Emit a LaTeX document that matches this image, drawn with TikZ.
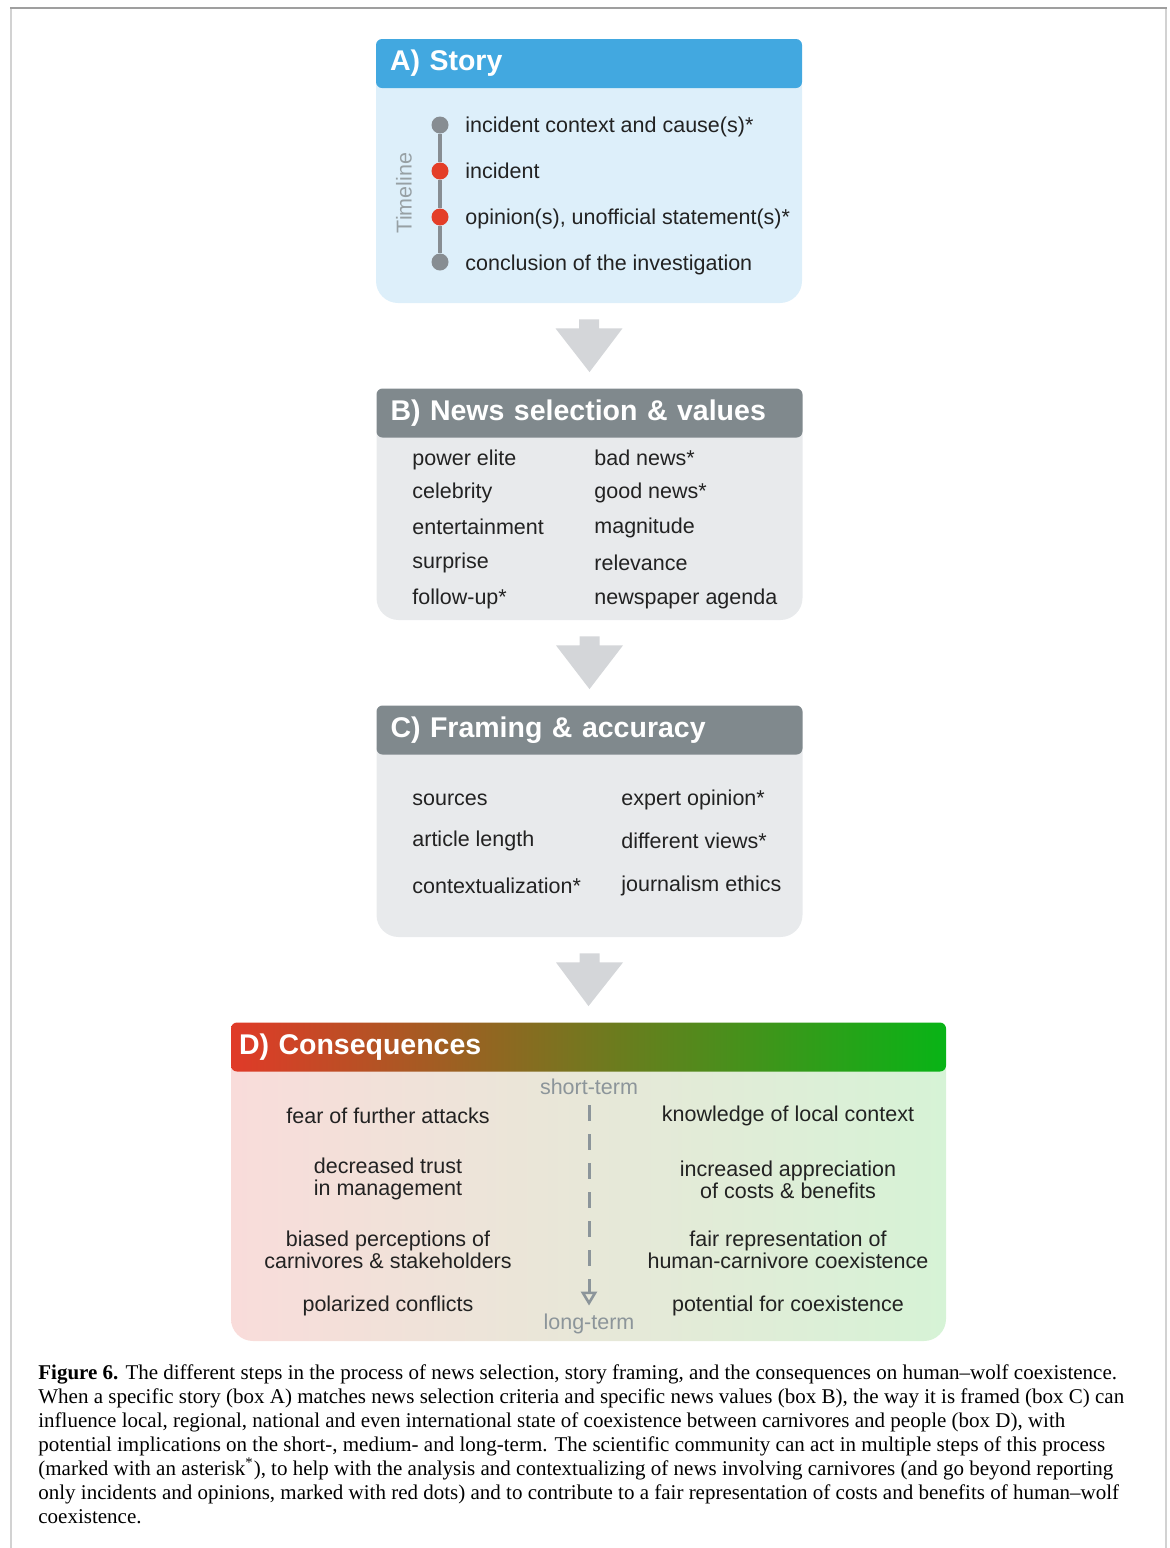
\documentclass[tikz,border=0pt]{standalone}
\usepackage{fontspec}
\setmainfont{Liberation Sans}
\newfontfamily\capfont{Liberation Serif}
\usetikzlibrary{calc,arrows.meta}
\definecolor{storyblue}{RGB}{66,168,224}
\definecolor{storylight}{RGB}{221,239,250}
\definecolor{newsgray}{RGB}{128,137,141}
\definecolor{newslight}{RGB}{232,234,236}
\definecolor{arrowgray}{RGB}{212,214,217}
\definecolor{dotgray}{RGB}{135,141,146}
\definecolor{dotred}{RGB}{228,62,40}
\definecolor{termgray}{RGB}{140,149,154}
\definecolor{consred}{RGB}{224,58,40}
\definecolor{consbrown}{RGB}{140,106,42}
\definecolor{consgreen}{RGB}{8,180,22}
\definecolor{conspink}{RGB}{249,220,218}
\definecolor{consbeige}{RGB}{239,230,220}
\definecolor{conslgreen}{RGB}{214,243,214}
\definecolor{textdark}{RGB}{34,34,34}

\begin{document}
\begin{tikzpicture}[x=0.5pt,y=-0.5pt,
  boxhead/.style={minimum height=24.5pt, text width=199pt, inner xsep=7pt, inner ysep=0pt,
    rounded corners=3pt, align=left, text=white, font=\fontsize{14.25}{16}\selectfont\bfseries},
  boxbody/.style={minimum width=213pt, inner sep=0pt, rounded corners=11pt},
  item/.style={anchor=mid west, inner sep=0pt, yshift=-1pt, text=textdark, font=\fontsize{10.75}{11.2}\selectfont},
  conseq/.style={align=center, inner sep=0pt, text=textdark, font=\fontsize{10.75}{11.2}\selectfont},
  term/.style={inner sep=0pt, text=termgray, font=\fontsize{10.75}{11.2}\selectfont},
  tdot/.style={circle, minimum size=8.5pt, inner sep=0pt},
  blockarrow/.style={fill=arrowgray}]
\useasboundingbox (0,0) rectangle (1170,1548);

% frame
\draw[gray!35, line width=1pt] (11,1548) -- (11,8) (1166,8) -- (1166,1548);
\draw[gray!75, line width=1pt] (10,8) -- (1167,8);

% A) Story
\node[boxbody, fill=storylight, minimum height=120.25pt] (bodyA) at (589,182.75) {};
\node[boxhead, fill=storyblue] (headA) at (589,63.5) {A) Story};
\node[rotate=90, inner sep=0pt, text=termgray!90, font=\fontsize{10.75}{11}\selectfont] (timeline) at (404,193) {Timeline};
\node[tdot, fill=dotgray] (t1) at (440,125) {};
\node[tdot, fill=dotred] (t2) at (440,171) {};
\node[tdot, fill=dotred] (t3) at (440,217) {};
\node[tdot, fill=dotgray] (t4) at (440,262) {};
\draw[dotgray, line width=2pt] (t1) -- (t2) (t2) -- (t3) (t3) -- (t4);
\node[item] (s1) at (465,125) {incident context and cause(s)*};
\node[item] (s2) at (465,171) {incident};
\node[item] (s3) at (465,217) {opinion(s), unofficial statement(s)*};
\node[item] (s4) at (465,263) {conclusion of the investigation};

% B) News selection & values
\node[boxbody, fill=newslight, minimum height=104pt] (bodyB) at (589.5,516) {};
\node[boxhead, fill=newsgray] (headB) at (589.5,413) {B) News selection \& values};
\node[item] (b1) at (412,458) {power elite};
\node[item] (b2) at (412,491) {celebrity};
\node[item] (b3) at (412,527) {entertainment};
\node[item] (b4) at (412,561) {surprise};
\node[item] (b5) at (412,597) {follow-up*};
\node[item] (b6) at (594,458) {bad news*};
\node[item] (b7) at (594,491) {good news*};
\node[item] (b8) at (594,526) {magnitude};
\node[item] (b9) at (594,563) {relevance};
\node[item] (b10) at (594,597) {newspaper agenda};

% C) Framing & accuracy
\node[boxbody, fill=newslight, minimum height=104pt] (bodyC) at (589.5,833) {};
\node[boxhead, fill=newsgray] (headC) at (589.5,730) {C) Framing \& accuracy};
\node[item] (c1) at (412,798) {sources};
\node[item] (c2) at (412,839) {article length};
\node[item] (c3) at (412,886) {contextualization*};
\node[item] (c4) at (621,798) {expert opinion*};
\node[item] (c5) at (621,841) {different views*};
\node[item] (c6) at (621,884) {journalism ethics};

% D) Consequences
\node[boxbody, minimum width=357.5pt, minimum height=147.5pt,
  left color=conspink, middle color=consbeige, right color=conslgreen] (bodyD) at (588.5,1193.5) {};
\node[boxhead, text width=349.5pt, inner xsep=4pt,
  left color=consred, middle color=consbrown, right color=consgreen] (headD) at (588.5,1047) {D) Consequences};
\node[term] (short) at (589,1087) {short-term};
\node[term] (long) at (589,1324) {long-term};
\draw[termgray, line width=1.5pt, dash pattern=on 8pt off 6.5pt, shorten <=5pt, shorten >=4pt,
  -{Triangle[open, length=7pt, width=8pt, line width=1.3pt]}] (short) -- (long);
\node[conseq] (d1) at (388,1116) {fear of further attacks};
\node[conseq] (d2) at (388,1179) {decreased trust\\in management};
\node[conseq] (d3) at (388,1250) {biased perceptions of\\carnivores \& stakeholders};
\node[conseq] (d4) at (388,1306) {polarized conflicts};
\node[conseq] (d5) at (788,1116) {knowledge of local context};
\node[conseq] (d6) at (788,1180) {increased appreciation\\of costs \& benefits};
\node[conseq] (d7) at (788,1250) {fair representation of\\human-carnivore coexistence};
\node[conseq] (d8) at (788,1306) {potential for coexistence};

% arrows between the boxes
\foreach \from/\to in {bodyA/headB, bodyB/headC, bodyC/headD}
  \fill[blockarrow] ($(\from.south)+(-10,16)$) -- ++(20,0) -- ++(0,9) -- ++(23.5,0)
    -- ($(\to.north)+(0,-16)$) -- ($(\from.south)+(-33.5,25)$) -- ++(23.5,0) -- cycle;

% caption
\node[anchor=north west, align=left, inner sep=0pt, text=black,
  font=\capfont\fontsize{10.5}{12}\selectfont] (caption) at (38,1364) {%
\textbf{Figure 6.} The different steps in the process of news selection, story framing, and the consequences on human–wolf coexistence.\\
When a specific story (box A) matches news selection criteria and specific news values (box B), the way it is framed (box C) can\\
influence local, regional, national and even international state of coexistence between carnivores and people (box D), with\\
potential implications on the short-, medium- and long-term. The scientific community can act in multiple steps of this process\\
(marked with an asterisk\textsuperscript{*}), to help with the analysis and contextualizing of news involving carnivores (and go beyond reporting\\
only incidents and opinions, marked with red dots) and to contribute to a fair representation of costs and benefits of human–wolf\\
coexistence.};
\end{tikzpicture}
\end{document}
